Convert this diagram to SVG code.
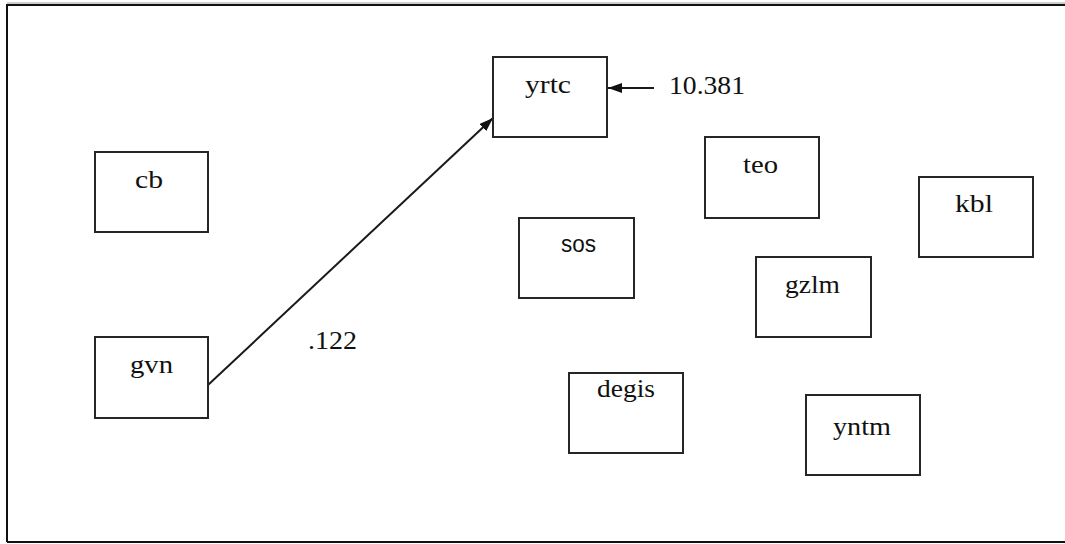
<svg xmlns="http://www.w3.org/2000/svg" width="1065" height="544" viewBox="0 0 1065 544">
  <style>
    .box { fill: #ffffff; stroke: #262626; stroke-width: 2; }
    .lbl { font-family: 'Liberation Serif', 'DejaVu Serif', serif; font-size: 25px; fill: #111111; }
    .sans { font-family: 'Liberation Sans', 'DejaVu Sans', sans-serif; font-size: 23px; fill: #111111; }
    .edge { stroke: #1a1a1a; stroke-width: 2; fill: none; }
  </style>
  <defs>
    <marker id="arrow" viewBox="0 0 14 10" refX="14" refY="5" markerWidth="14" markerHeight="10" markerUnits="userSpaceOnUse" orient="auto">
      <path d="M0,0 L14,5 L0,10 Z" fill="#111111"/>
    </marker>
  </defs>

  <rect x="0" y="0" width="1065" height="544" fill="#ffffff"/>
  <!-- outer frame, open on the right -->
  <line x1="7" y1="3" x2="1065" y2="3" stroke="#9a9a9a" stroke-width="1"/>
  <path d="M7,542 L7,5 L1065,5" fill="none" stroke="#111111" stroke-width="2"/>
  <line x1="7" y1="542" x2="1065" y2="542" stroke="#111111" stroke-width="2"/>

  <g id="connectors">
    <line class="edge" x1="208" y1="385" x2="493" y2="118" marker-end="url(#arrow)"/>
    <line class="edge" x1="654" y1="88" x2="608" y2="88" marker-end="url(#arrow)"/>
    <text class="lbl" x="308" y="349" textLength="49" lengthAdjust="spacingAndGlyphs">.122</text>
    <text class="lbl" x="669" y="94" textLength="76" lengthAdjust="spacingAndGlyphs">10.381</text>
  </g>

  <g id="node-yrtc">
    <rect class="box" x="493" y="57" width="114" height="80"/>
    <text class="lbl" x="525" y="93" textLength="46" lengthAdjust="spacingAndGlyphs">yrtc</text>
  </g>
  <g id="node-cb">
    <rect class="box" x="95" y="152" width="113" height="80"/>
    <text class="lbl" x="135" y="188" textLength="28" lengthAdjust="spacingAndGlyphs">cb</text>
  </g>
  <g id="node-gvn">
    <rect class="box" x="95" y="337" width="113" height="81"/>
    <text class="lbl" x="130" y="373" textLength="43" lengthAdjust="spacingAndGlyphs">gvn</text>
  </g>
  <g id="node-sos">
    <rect class="box" x="519" y="218" width="115" height="80"/>
    <text class="sans" x="561" y="252" textLength="35" lengthAdjust="spacingAndGlyphs">sos</text>
  </g>
  <g id="node-teo">
    <rect class="box" x="705" y="137" width="114" height="81"/>
    <text class="lbl" x="743" y="173" textLength="35" lengthAdjust="spacingAndGlyphs">teo</text>
  </g>
  <g id="node-kbl">
    <rect class="box" x="919" y="177" width="114" height="80"/>
    <text class="lbl" x="955" y="212" textLength="38" lengthAdjust="spacingAndGlyphs">kbl</text>
  </g>
  <g id="node-gzlm">
    <rect class="box" x="756" y="257" width="115" height="80"/>
    <text class="lbl" x="785" y="293" textLength="55" lengthAdjust="spacingAndGlyphs">gzlm</text>
  </g>
  <g id="node-degis">
    <rect class="box" x="569" y="373" width="114" height="80"/>
    <text class="lbl" x="597" y="397" textLength="58" lengthAdjust="spacingAndGlyphs">degis</text>
  </g>
  <g id="node-yntm">
    <rect class="box" x="806" y="395" width="114" height="80"/>
    <text class="lbl" x="833" y="435" textLength="58" lengthAdjust="spacingAndGlyphs">yntm</text>
  </g>
</svg>
